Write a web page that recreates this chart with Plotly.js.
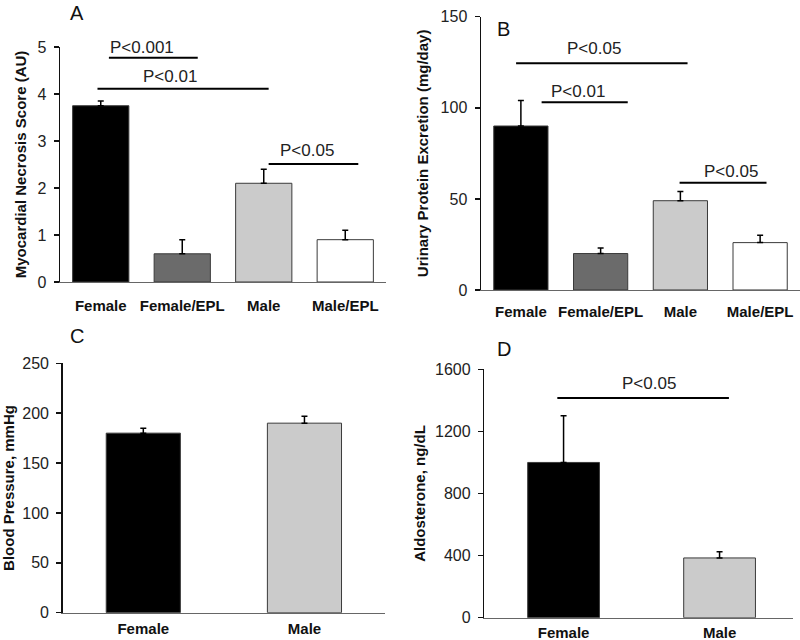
<!DOCTYPE html>
<html>
<head>
<meta charset="utf-8">
<script src="https://cdn.plot.ly/plotly-3.0.1.min.js"></script>
<style>html,body{margin:0;padding:0;background:#fff}#chart{width:800px;height:640px}</style>
</head>
<body>
<div id="chart"></div>
<script>
// ---- Data ----
const groupsAB = ["Female", "Female/EPL", "Male", "Male/EPL"];
const groupsCD = ["Female", "Male"];

const necrosisScore = [3.75, 0.6, 2.1, 0.9];
const necrosisErr   = [0.1, 0.3, 0.3, 0.2];

const urinaryProtein = [90, 20, 49, 26];
const urinaryErr     = [14, 3, 5, 4];

const bloodPressure = [180, 190];
const bloodErr      = [5, 7];

const aldosterone    = [1000, 385];
const aldosteroneErr = [300, 40];

const yTicksA = [0, 1, 2, 3, 4, 5];
const yTicksB = [0, 50, 100, 150];
const yTicksC = [0, 50, 100, 150, 200, 250];
const yTicksD = [0, 400, 800, 1200, 1600];

// significance brackets (line extent, level, label and label position)
const sigA = [
  {x0: 0.10, x1: 1.19, y: 4.77, text: "P<0.001", tx: 0.51, ty: 4.99},
  {x0: -0.04, x1: 2.06, y: 4.11, text: "P<0.01", tx: 0.85, ty: 4.38},
  {x0: 2.06, x1: 3.16, y: 2.51, text: "P<0.05", tx: 2.53, ty: 2.79}
];
const sigB = [
  {x0: -0.06, x1: 2.09, y: 124.4, text: "P<0.05", tx: 0.92, ty: 132.7},
  {x0: 0.26, x1: 1.34, y: 103, text: "P<0.01", tx: 0.72, ty: 108.8},
  {x0: 1.99, x1: 3.08, y: 58.9, text: "P<0.05", tx: 2.64, ty: 64.9}
];
const sigD = [
  {x0: -0.04, x1: 1.06, y: 1415, text: "P<0.05", tx: 0.55, ty: 1510}
];

// ---- Styles ----
const colors4 = ["#000000", "#6b6b6b", "#cbcbcb", "#ffffff"];
const colors2 = ["#000000", "#cbcbcb"];
const FONT = "Liberation Sans, Arial, sans-serif";

function barTrace(x, y, err, colors, width, xa, ya) {
  return {
    type: "bar", x: x, y: y, xaxis: xa, yaxis: ya,
    width: width,
    marker: {color: colors, line: {color: "#3a3a3a", width: 1}},
    error_y: {type: "data", array: err, arrayminus: err.map(() => 0), symmetric: false,
              color: "#000", thickness: 1.5, width: 3},
    hoverinfo: "skip", showlegend: false
  };
}

const traces = [
  barTrace(groupsAB, necrosisScore, necrosisErr, colors4, 0.69, "x", "y"),
  barTrace(groupsAB, urinaryProtein, urinaryErr, colors4, 0.68, "x2", "y2"),
  barTrace(groupsCD, bloodPressure, bloodErr, colors2, 0.46, "x3", "y3"),
  barTrace(groupsCD, aldosterone, aldosteroneErr, colors2, 0.46, "x4", "y4")
];

function xax(domain, range, standoff, anchor) {
  return {
    domain: domain, range: range, anchor: anchor, type: "category",
    showline: true, linecolor: "#666", linewidth: 1.5,
    ticks: "", showgrid: false, zeroline: false, fixedrange: true,
    tickfont: {family: FONT, size: 15, color: "#111", weight: "bold"},
    ticklabelstandoff: standoff
  };
}
function yax(domain, range, tickvals, title, standoff, anchor) {
  return {
    domain: domain, range: range, anchor: anchor,
    tickvals: tickvals, ticktext: tickvals.map(String),
    showline: true, linecolor: "#111", linewidth: 1.5,
    ticks: "outside", ticklen: 5, tickwidth: 1.5, tickcolor: "#111",
    showgrid: false, zeroline: false, fixedrange: true,
    tickfont: {family: FONT, size: 16, color: "#222"},
    ticklabelstandoff: 4,
    title: {text: title, font: {family: FONT, size: 15, color: "#111", weight: "bold"}, standoff: standoff}
  };
}

const shapes = [];
const annotations = [];
function addSig(list, xr, yr) {
  list.forEach(s => {
    shapes.push({type: "line", xref: xr, yref: yr, x0: s.x0, x1: s.x1, y0: s.y, y1: s.y,
                 line: {color: "#000", width: 2}});
    annotations.push({xref: xr, yref: yr, x: s.tx, y: s.ty, text: s.text, showarrow: false,
                      xanchor: "center", yanchor: "middle",
                      font: {family: FONT, size: 17, color: "#222"}});
  });
}
addSig(sigA, "x", "y");
addSig(sigB, "x2", "y2");
addSig(sigD, "x4", "y4");

const letters = [["A", 77, 13], ["B", 503, 29], ["C", 77, 336], ["D", 504, 349]];
letters.forEach(l => annotations.push({
  xref: "paper", yref: "paper", x: l[1] / 800, y: 1 - l[2] / 640, text: l[0], showarrow: false,
  xanchor: "center", yanchor: "middle", font: {family: FONT, size: 20, color: "#111"}
}));

const layout = {
  width: 800, height: 640,
  margin: {l: 0, r: 0, t: 0, b: 0},
  paper_bgcolor: "#fff", plot_bgcolor: "#fff",
  bargap: 0.3,
  xaxis:  xax([0.075, 0.4825], [-0.5, 3.5], 10, "y"),
  yaxis:  yax([0.5594, 0.9266], [0, 5], yTicksA, "Myocardial Necrosis Score (AU)", 7, "x"),
  xaxis2: xax([0.60125, 1.0], [-0.5, 3.5], 8, "y2"),
  yaxis2: yax([0.5469, 0.9739], [0, 150], yTicksB, "Urinary Protein Excretion (mg/day)", 8, "x2"),
  xaxis3: xax([0.0784, 0.4813], [-0.5, 1.5], 2, "y3"),
  yaxis3: yax([0.0427, 0.4323], [0, 250], yTicksC, "Blood Pressure, mmHg", 7, "x3"),
  xaxis4: xax([0.6054, 0.9913], [-0.508, 1.471], 1, "y4"),
  yaxis4: yax([0.0348, 0.423], [0, 1600], yTicksD, "Aldosterone, ng/dL", 6, "x4"),
  shapes: shapes,
  annotations: annotations
};

Plotly.newPlot("chart", traces, layout, {staticPlot: true, displayModeBar: false});
</script>
</body>
</html>
